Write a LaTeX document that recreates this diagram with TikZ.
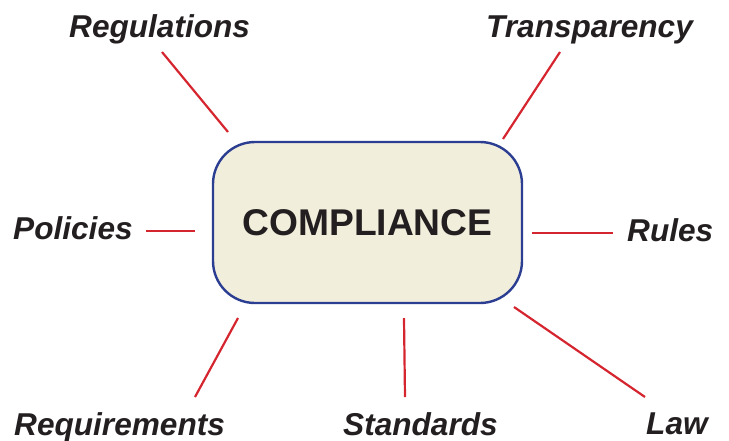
\documentclass[tikz,border=0pt]{standalone}
\usepackage{fontspec}
\setmainfont{Liberation Sans}
\definecolor{linkred}{HTML}{D52630}
\definecolor{boxblue}{HTML}{2C3E92}
\definecolor{boxfill}{HTML}{F2EEDC}
\definecolor{ink}{HTML}{231F20}
\begin{document}
\begin{tikzpicture}[x=1pt,y=-1pt,
  lbl/.style={anchor=base west,inner sep=0pt,text=ink,font=\fontsize{31.6}{31.6}\selectfont\bfseries\itshape},
  link/.style={draw=linkred,line width=2.2pt},
  hub/.style={draw=boxblue,fill=boxfill,line width=2.4pt,rounded corners=42pt,
    minimum width=309pt,minimum height=161pt,inner sep=0pt,text=ink,
    font=\fontsize{37.2}{37.2}\selectfont\bfseries}]
\useasboundingbox (0,0) rectangle (729,440);
\node[hub] (main) at (367.5,222.5) {COMPLIANCE};
\node[lbl] (reg) at (69,37) {Regulations};
\node[lbl] (tra) at (486,37) {Transparency};
\node[lbl] (pol) at (13,239) {Policies};
\node[lbl] (rul) at (627,241) {Rules};
\node[lbl] (req) at (14,435) {Requirements};
\node[lbl] (sta) at (343,435) {Standards};
\node[lbl] (law) at (646,434) {Law};
\coordinate (reg1) at (162,52); \coordinate (reg2) at (228,132);
\coordinate (tra1) at (560,52); \coordinate (tra2) at (503,139);
\coordinate (pol1) at (146,231); \coordinate (pol2) at (195,231);
\coordinate (rul1) at (532,233); \coordinate (rul2) at (613,233);
\coordinate (req1) at (238,318); \coordinate (req2) at (195,397);
\coordinate (sta1) at (404,318); \coordinate (sta2) at (405,397);
\coordinate (law1) at (514,307); \coordinate (law2) at (645,397);
\draw[link] (reg1) -- (reg2);
\draw[link] (tra1) -- (tra2);
\draw[link] (pol1) -- (pol2);
\draw[link] (rul1) -- (rul2);
\draw[link] (req1) -- (req2);
\draw[link] (sta1) -- (sta2);
\draw[link] (law1) -- (law2);
\end{tikzpicture}
\end{document}
